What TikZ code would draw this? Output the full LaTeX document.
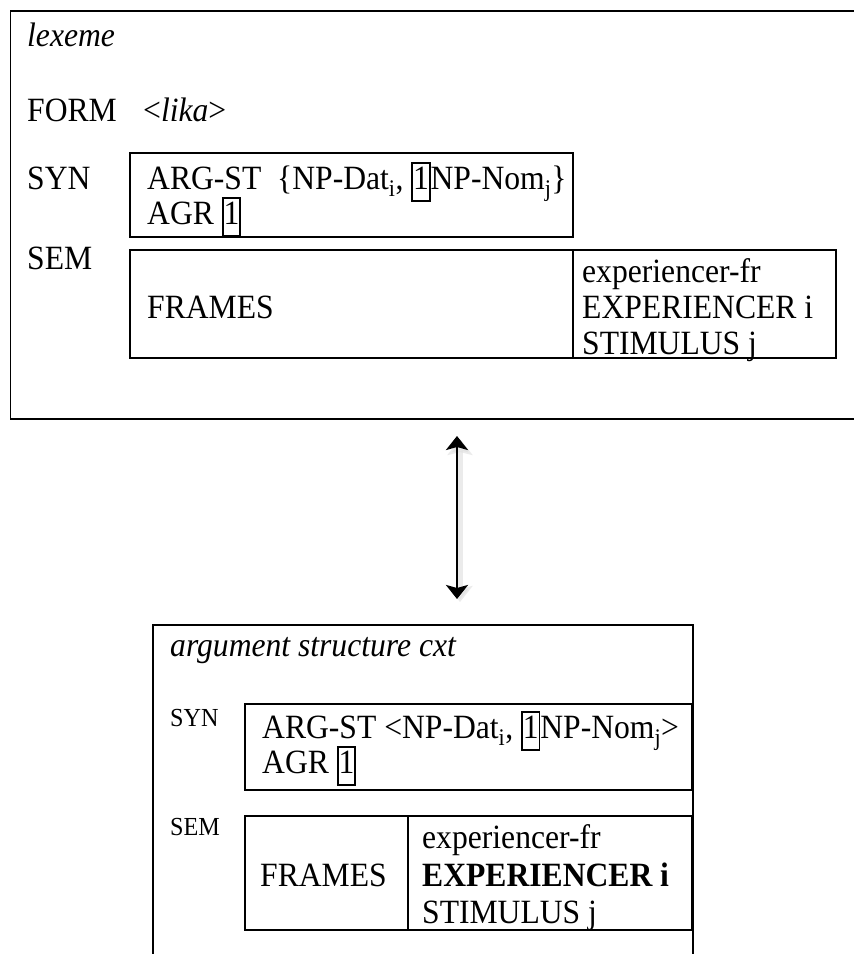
\documentclass[tikz,border=0pt]{standalone}
\usepackage{fontspec}
\setmainfont{Liberation Serif}[FakeStretch=0.93]
\usetikzlibrary{arrows.meta}
\newcommand{\bxn}[1]{{\setlength{\fboxsep}{0pt}\setlength{\fboxrule}{1.7pt}\fbox{\strut #1}}}
\tikzset{
  txt/.style={anchor=base west, inner sep=0pt, font=\fontsize{34}{36}\selectfont},
  small/.style={anchor=base west, inner sep=0pt, font=\fontsize{26}{30}\selectfont},
  frameline/.style={draw, line width=1.4pt},
  boxline/.style={draw, line width=1.2pt},
  hd/.tip={Stealth[length=14pt,width=22pt,inset=3pt]},
  shd/.tip={Stealth[length=16pt,width=25pt,inset=3pt]},
}
\begin{document}
\begin{tikzpicture}[x=1pt,y=-1pt]
\useasboundingbox[fill=white] (0,0) rectangle (854,954);

% ---------- top box (lexeme) ----------
\draw[frameline] (854,11) -- (10.5,11) -- (10.5,419) -- (854,419);
\node[txt] (lex) at (27,46) {\itshape lexeme};
\node[txt] (form) at (27,121) {FORM};
\node[txt] (lika) at (143,121) {<\textit{lika}>};
\node[txt] (syn1) at (27,189) {SYN};
\draw[boxline] (130,153) rectangle (573,237);
\node[txt] (argst1) at (147,189) {ARG-ST\ \ \{NP-Dat\textsubscript{i}, \bxn{1}NP-Nom\textsubscript{j}\}};
\node[txt] (agr1) at (147,224) {AGR \bxn{1}};
\node[txt] (sem1) at (27,269) {SEM};
\draw[boxline] (130,250) rectangle (836,358);
\draw[boxline] (573,250) -- (573,358);
\node[txt] (frames1) at (147,318) {FRAMES};
\node[txt] (exfr1) at (582,282) {experiencer-fr};
\node[txt] (exp1) at (582,318) {EXPERIENCER i};
\node[txt] (stim1) at (582,354) {STIMULUS j};

% ---------- arrow ----------
\coordinate (aTop) at (457,436);
\coordinate (aBot) at (457,599);
\coordinate (sTop) at (460,439);
\coordinate (sBot) at (460,602);
\draw[line width=5pt, gray!25, opacity=0.6, shd-shd] (sTop) -- (sBot);
\draw[line width=2.8pt, hd-hd] (aTop) -- (aBot);

% ---------- bottom box (argument structure cxt) ----------
\draw[frameline] (153,954) -- (153,625) -- (693,625) -- (693,954);
\node[txt] (asc) at (170,656) {\itshape argument structure cxt};
\node[small] (syn2) at (170,726) {SYN};
\draw[boxline] (245,704) rectangle (692,790);
\node[txt] (argst2) at (262,738) {ARG-ST <NP-Dat\textsubscript{i}, \bxn{1}NP-Nom\textsubscript{j}>};
\node[txt] (agr2) at (262,773) {AGR \bxn{1}};
\node[small] (sem2) at (170,835) {SEM};
\draw[boxline] (245,816) rectangle (692,930);
\draw[boxline] (408,816) -- (408,930);
\node[txt] (frames2) at (260,886) {FRAMES};
\node[txt] (exfr2) at (422,848) {experiencer-fr};
\node[txt] (exp2) at (422,886) {\bfseries EXPERIENCER i};
\node[txt] (stim2) at (422,923) {STIMULUS j};
\end{tikzpicture}
\end{document}
